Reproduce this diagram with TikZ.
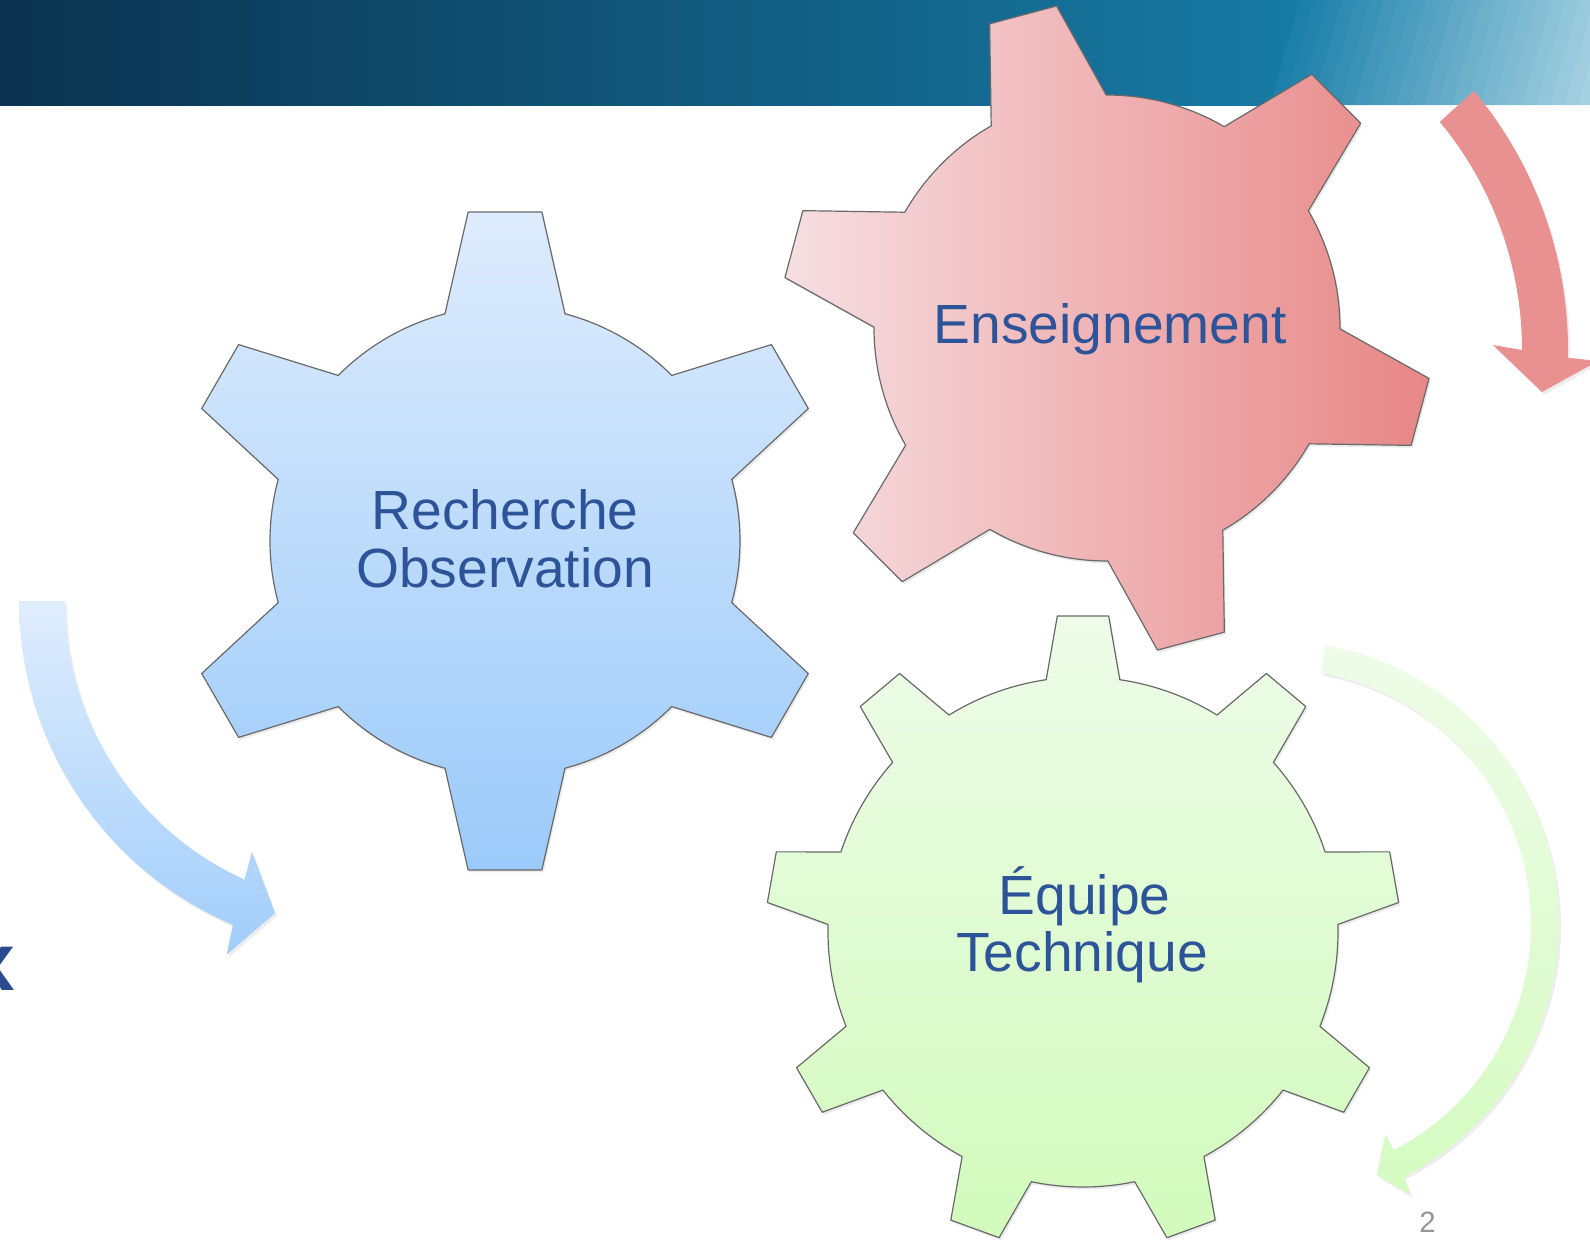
\documentclass[tikz,border=0pt]{standalone}
\usepackage{fontspec}
\setmainfont{Liberation Sans}
\usetikzlibrary{shadows}

% palette
\definecolor{labelblue}{RGB}{45,84,153}
\definecolor{titleblue}{RGB}{42,76,142}
\definecolor{bannerL}{RGB}{11,50,79}
\definecolor{bannerM}{RGB}{17,88,122}
\definecolor{bannerR}{RGB}{23,123,165}
\definecolor{stripeA}{RGB}{28,128,170}
\definecolor{stripeB}{RGB}{172,213,228}
\definecolor{blueTop}{RGB}{222,236,253}
\definecolor{blueBot}{RGB}{155,202,250}
\definecolor{redL}{RGB}{246,223,226}
\definecolor{redR}{RGB}{232,134,134}
\definecolor{greenTop}{RGB}{238,252,233}
\definecolor{greenBot}{RGB}{210,251,188}
\definecolor{arrowRed}{RGB}{233,144,145}
\definecolor{bArrowTop}{RGB}{224,237,253}
\definecolor{bArrowBot}{RGB}{160,205,251}
\definecolor{gArrowTop}{RGB}{238,252,232}
\definecolor{gArrowBot}{RGB}{212,251,192}
\definecolor{gearline}{RGB}{105,105,105}
\definecolor{pagegray}{RGB}{150,150,150}

% gear outline: #1 style, #2/#3 centre, #4 teeth, #5 angle of first tooth,
% #6 body radius, #7 tip radius, #8 root half-angle, #9 tip half-angle
\newcommand\drawgear[9]{%
  \pgfmathsetmacro\gstep{360/#4}%
  \pgfmathtruncatemacro\glast{#4-1}%
  \path[#1,shift={(#2,#3)}] ({#5-#8}:#6)
    \foreach \k [evaluate=\k as \t using #5+\k*\gstep] in {0,...,\glast}{
      -- ({\t-#9}:#7) -- ({\t+#9}:#7) -- ({\t+#8}:#6)
      arc[start angle={\t+#8}, end angle={\t+\gstep-#8}, radius=#6]
    } -- cycle;
}

\tikzset{
  gearbase/.style={draw=gearline, line width=0.6pt, line join=round,
    drop shadow={opacity=0.16, shadow xshift=0.8pt, shadow yshift=-1.2pt}},
  bluegear/.style={gearbase, top color=blueTop, bottom color=blueBot},
  redgear/.style={gearbase, left color=redL, right color=redR},
  greengear/.style={gearbase, top color=greenTop, bottom color=greenBot},
  arrowbase/.style={drop shadow={opacity=0.14, shadow xshift=1pt, shadow yshift=-1.4pt}},
  bluearrow/.style={arrowbase, top color=bArrowTop, bottom color=bArrowBot},
  greenarrow/.style={arrowbase, top color=gArrowTop, bottom color=gArrowBot},
  redarrow/.style={arrowbase, fill=arrowRed},
  gearlabel/.style={anchor=base, inner sep=0pt, text=labelblue,
    font=\fontsize{27.6}{32}\selectfont},
}

\begin{document}
\begin{tikzpicture}[x=0.5pt, y=-0.5pt]
  \useasboundingbox (0,0) rectangle (1590,1239);
  \clip (0,0) rectangle (1590,1239);
  \fill[white] (0,0) rectangle (1590,1239);

  % title banner with light diagonal stripes on the right
  \fill[bannerR] (1280,0) rectangle (1590,105);
  \shade[left color=bannerL, middle color=bannerM, right color=bannerR]
    (0,0) rectangle (1290,105);
  \foreach \i in {0,...,23}{
    \pgfmathtruncatemacro\p{100*\i/23}
    \fill[stripeB!\p!stripeA]
      ({1270+14*\i},105) -- ({1284.6+14*\i},105) -- ({1314.6+14*\i},0) -- ({1300+14*\i},0) -- cycle;
  }

  % left curved arrow
  \path[bluearrow, shift={(371,601)}]
    (180:352) arc[start angle=180, end angle=113.1, radius=352]
    -- (112.2:382) -- (107.1:326.6) -- (115.4:277.6) -- (114.4:306)
    arc[start angle=114.4, end angle=180, radius=306] -- cycle;

  % gears
  \drawgear{bluegear}{505}{541}{6}{-90}{235}{331}{14.8}{6.4}
  \drawgear{greengear}{1083}{932}{9}{-90}{255}{317}{8.3}{4.65}
  \drawgear{redgear}{1107}{328}{6}{-105}{233}{326}{14.8}{6.1}

  % right curved arrows
  \path[greenarrow, shift={(1276,924)}]
    (-80:283) arc[start angle=-80, end angle=63.2, radius=283]
    -- (63.6:302) -- (68.1:270.3) -- (62.6:237.8) -- (62.6:255)
    arc[start angle=62.6, end angle=-79.7, radius=255] -- cycle;
  \path[redarrow, shift={(1164,350)}]
    (-39.9:404) arc[start angle=-39.9, end angle=1.1, radius=404]
    -- (434,11) -- (378,42) -- (329,-5) -- (0:358)
    arc[start angle=0, end angle=-39.6, radius=358] -- cycle;

  % gear labels
  \node[gearlabel] (recherche)    at (505,529.6)  {Recherche};
  \node[gearlabel] (observation)  at (505,587)    {Observation};
  \node[gearlabel] (enseignement) at (1110,343)   {Enseignement};
  \node[gearlabel] (equipe)       at (1084.6,914.6) {Équipe};
  \node[gearlabel] (technique)    at (1082,971.6) {Technique};

  % edge of the slide title and page number
  \node[anchor=base, inner sep=0pt, text=titleblue,
        font=\fontsize{41}{48}\selectfont\bfseries] (titlex) at (-8,990) {x};
  \node[anchor=base, inner sep=0pt, text=pagegray,
        font=\fontsize{14.7}{18}\selectfont] (pagenum) at (1427.5,1232) {2};
\end{tikzpicture}
\end{document}
